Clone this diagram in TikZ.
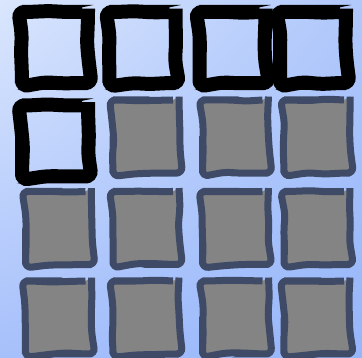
\documentclass[tikz,border=0pt]{standalone}
\usetikzlibrary{decorations.pathmorphing,shadings}

\definecolor{bgul}{RGB}{218,230,253}
\definecolor{bgur}{RGB}{176,200,251}
\definecolor{bgll}{RGB}{166,192,251}
\definecolor{bglr}{RGB}{150,182,250}
\definecolor{tilegray}{RGB}{132,132,132}
\definecolor{tileedge}{RGB}{62,74,102}

\begin{document}
\pgfmathsetseed{5}
\begin{tikzpicture}[x=1pt, y=-1pt,
  wobbly/.style={decorate, decoration={random steps, segment length=17pt, amplitude=1.1pt}, rounded corners=6pt},
  openbox/.style={wobbly, draw=black, line width=14pt, minimum width=66pt, minimum height=71pt, inner sep=0pt},
  tilebox/.style={wobbly, draw=tileedge, fill=tilegray, line width=7pt, minimum width=66pt, minimum height=73pt, inner sep=0pt}]
\useasboundingbox (0,0) rectangle (362,358);
\shade[upper left=bgul, upper right=bgur, lower left=bgll, lower right=bglr] (0,0) rectangle (362,358);
% first row and start of second row: empty frames
\node[openbox] (c11) at (55,47.5) {};
\node[openbox] (c12) at (142.5,47.5) {};
\node[openbox] (c13) at (232.5,47.5) {};
\node[openbox] (c14) at (313,47.5) {};
\node[openbox] (c21) at (55,141) {};
% filled tiles
\node[tilebox] (c22) at (146,136.5) {};
\node[tilebox] (c23) at (235.5,136.5) {};
\node[tilebox] (c24) at (317,136.5) {};
\node[tilebox] (c31) at (58.5,228) {};
\node[tilebox] (c32) at (146,228) {};
\node[tilebox] (c33) at (235.5,228) {};
\node[tilebox] (c34) at (317,228) {};
\node[tilebox] (c41) at (58.5,317.5) {};
\node[tilebox] (c42) at (146,317.5) {};
\node[tilebox] (c43) at (235.5,317.5) {};
\node[tilebox] (c44) at (317,317.5) {};
\end{tikzpicture}
\end{document}
